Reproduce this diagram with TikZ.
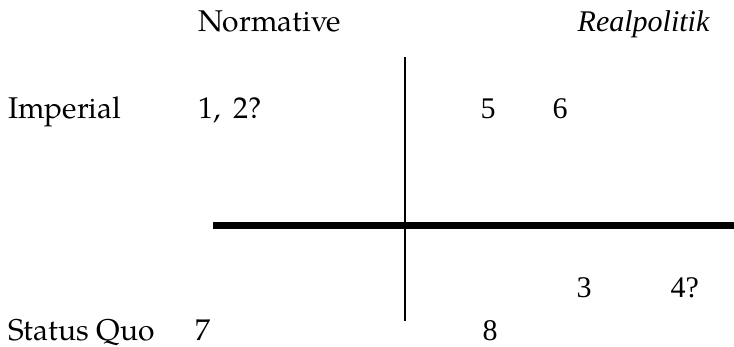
\documentclass[tikz,border=0pt]{standalone}
\usepackage{fontspec}
\setmainfont{texgyrepagella}[Extension=.otf, UprightFont=*-regular, ItalicFont=*-italic, BoldFont=*-bold]
\newfontfamily\timesf{Liberation Serif}[ItalicFont={Liberation Serif Italic}]
\newfontfamily\timesit{Liberation Serif Italic}
\begin{document}
\begin{tikzpicture}[x=0.3pt,y=-0.3pt,
  lbl/.style={anchor=base west, inner sep=0pt, font=\fontsize{9}{11}\selectfont},
  tlbl/.style={anchor=base west, inner sep=0pt, font=\fontsize{9}{11}\selectfont\timesf}]
\useasboundingbox (0,0) rectangle (734,347);
\node[anchor=base west, inner sep=0pt, font=\fontsize{9}{11}\selectfont\timesit] (real) at (577,32) {Realpolitik};
\node[lbl] (norm) at (198,32) {Normative};
\node[lbl] (imp) at (8,119) {Imperial};
\node[lbl] (n12) at (198,119) {1,\, 2?};
\node[tlbl] (n5) at (480,119) {5};
\node[tlbl] (n6) at (552,119) {6};
\node[tlbl] (n3) at (576,298) {3};
\node[tlbl] (n4) at (670,298) {4?};
\node[lbl] (sq) at (8,341) {Status Quo};
\node[lbl] (n7) at (195,341) {7};
\node[tlbl] (n8) at (482,341) {8};
\coordinate (vt) at (404.7,57);
\coordinate (vb) at (404.7,321);
\coordinate (hl) at (213,225.7);
\coordinate (hr) at (734,225.7);
\draw[line width=0.6pt] (vt) -- (vb);
\draw[line width=2.1pt] (hl) -- (hr);
\end{tikzpicture}
\end{document}
